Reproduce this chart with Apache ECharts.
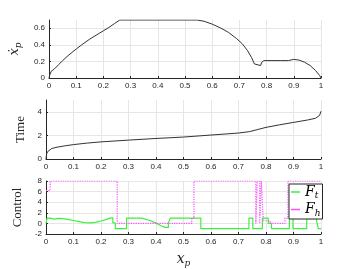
<!DOCTYPE html>
<html><head><meta charset="utf-8">
<script src="https://cdn.jsdelivr.net/npm/echarts@6/dist/echarts.min.js"></script>
<style>html,body{margin:0;padding:0;background:#fff}#c{width:355px;height:269px}</style>
</head><body><div id="c"></div>
<script>
// x_p ticks
const xTicks = [0,0.1,0.2,0.3,0.4,0.5,0.6,0.7,0.8,0.9,1];
// velocity profile [x_p, xdot_p]
const velocity = [[0,0],[0.003,0.04],[0.008,0.08],[0.02,0.11],[0.035,0.16],[0.05,0.21],[0.07,0.27],[0.1,0.35],[0.12,0.4],[0.15,0.47],[0.18,0.53],[0.2,0.57],[0.22,0.61],[0.24,0.655],[0.26,0.7],[0.544,0.7],[0.57,0.685],[0.6,0.65],[0.63,0.605],[0.66,0.55],[0.69,0.475],[0.71,0.415],[0.73,0.33],[0.745,0.245],[0.755,0.17],[0.762,0.15],[0.778,0.15],[0.782,0.19],[0.79,0.21],[0.85,0.21],[0.88,0.21],[0.9,0.225],[0.92,0.215],[0.94,0.19],[0.96,0.15],[0.98,0.09],[0.995,0.03],[1,0]];
// time [x_p, t]
const timeData = [[0,0],[0.002,0.4],[0.005,0.6],[0.01,0.75],[0.02,0.88],[0.04,1.0],[0.07,1.12],[0.1,1.22],[0.15,1.35],[0.2,1.45],[0.3,1.6],[0.4,1.74],[0.5,1.86],[0.6,2.03],[0.7,2.2],[0.74,2.32],[0.77,2.5],[0.8,2.68],[0.85,2.9],[0.9,3.1],[0.95,3.3],[0.98,3.45],[0.995,3.7],[1,4.05]];
// control F_t [x_p, value]
const controlFt = [[0,0],[0.004,0],[0.004,1.0],[0.015,1.0],[0.02,0.7],[0.03,0.8],[0.045,0.95],[0.06,0.9],[0.08,0.75],[0.1,0.55],[0.12,0.35],[0.14,0.15],[0.16,0.1],[0.18,0.2],[0.2,0.45],[0.22,0.75],[0.235,1.05],[0.243,1.05],[0.243,0.1],[0.252,0.1],[0.252,-1],[0.293,-1],[0.293,1.0],[0.348,1.0],[0.378,0.55],[0.402,0.0],[0.42,-0.5],[0.433,-0.75],[0.445,-0.75],[0.445,0.1],[0.452,0.1],[0.452,1.0],[0.563,1.0],[0.563,-1],[0.738,-1],[0.738,1.0],[0.752,1.0],[0.752,-1],[0.787,-1],[0.787,1.0],[0.808,1.0],[0.808,0],[0.82,0],[0.82,-1],[0.885,-1],[0.885,1.0],[0.898,1.0],[0.898,-1],[0.948,-1],[0.948,0.9],[0.984,0.9],[0.984,0.5],[0.99,0.5],[0.99,-1],[1,-1]];
// control F_h [x_p, value]
const controlFh = [[0,6.2],[0.015,6.2],[0.015,8],[0.259,8],[0.259,0],[0.53,0],[0.53,1],[0.538,1],[0.538,8],[0.763,8],[0.763,0],[0.768,0],[0.768,8],[0.777,8],[0.777,0],[0.783,0],[0.783,8],[0.79,8],[0.79,0.5],[0.815,0.5],[0.815,0],[0.869,0],[0.869,1],[0.88,1],[0.88,8],[1,8]];
// y ticks [min, max, interval]
const yTicks = [[0,0.7,0.2],[0,5,2],[-2,8,2]];

const axisCol = '#262626';
const gridCol = '#e6e6e6';
const lblStyle = {fontSize:8, color:axisCol, fontFamily:'Liberation Sans, Arial, sans-serif'};
const grids = [
  {left:46, right:34, top:20, height:58},
  {left:46, right:34, top:100, height:59},
  {left:46, right:34, top:181, height:58}
];
const xAxes = grids.map((g,i)=>({
  type:'value', gridIndex:i, min:xTicks[0], max:xTicks[xTicks.length-1], interval:0.1,
  axisLine:{show:true, onZero:false, lineStyle:{color:axisCol, width:1}},
  axisTick:{show:true, inside:true, length:2, lineStyle:{color:axisCol}},
  axisLabel:Object.assign({margin:4, formatter:v=>String(+v.toFixed(1))}, lblStyle),
  splitLine:{show:true, lineStyle:{color:gridCol, width:1}},
  name: i===2 ? '{i|x}{s|p}' : '',
  nameLocation:'middle', nameGap:17,
  nameTextStyle:{rich:{i:{fontFamily:'DejaVu Serif, serif', fontStyle:'italic', fontSize:14, color:axisCol}, s:{fontFamily:'DejaVu Serif, serif', fontStyle:'italic', fontSize:9, color:axisCol, padding:[8,0,0,0]}}}
}));
const yNames = ['{i|ẋ}{s|p}','{t|Time}','{t|Control}'];
const yAxes = grids.map((g,i)=>({
  type:'value', gridIndex:i, min:yTicks[i][0], max:yTicks[i][1], interval:yTicks[i][2],
  axisLine:{show:true, lineStyle:{color:axisCol, width:1}},
  axisTick:{show:true, inside:true, length:2, lineStyle:{color:axisCol}},
  axisLabel:Object.assign({margin:4, showMaxLabel: i===2, formatter:v=>String(+(+v).toFixed(1))}, lblStyle),
  splitLine:{show:true, showMaxLine: i===2, lineStyle:{color:gridCol, width:1}},
  name:yNames[i], nameLocation:'middle', nameRotate:90, nameGap: i===0?12:(i===1?9:11),
  nameTextStyle:{rich:{
    i:{fontFamily:'DejaVu Serif, serif', fontStyle:'italic', fontSize:13, color:axisCol},
    s:{fontFamily:'DejaVu Serif, serif', fontStyle:'italic', fontSize:9, color:axisCol, padding:[8,0,0,0]},
    t:{fontFamily:'Liberation Serif, DejaVu Serif, serif', fontSize:13, color:axisCol}
  }}
}));
const chart = echarts.init(document.getElementById('c'), null, {renderer:'canvas'});
chart.setOption({
  animation:false,
  backgroundColor:'#fff',
  grid:grids,
  xAxis:xAxes,
  yAxis:yAxes,
  legend:{
    show:true, orient:'vertical', left:289, top:184,
    data:['Ft','Fh'],
    icon:'rect',
    itemWidth:9, itemHeight:1.5, itemGap:2,
    padding:[1,2,1,2],
    backgroundColor:'#fff', borderColor:axisCol, borderWidth:1, borderRadius:0,
    formatter:n=> n==='Ft' ? '{i|F}{s|t}' : '{i|F}{s|h}',
    textStyle:{rich:{
      i:{fontFamily:'DejaVu Serif, serif', fontStyle:'italic', fontSize:14, color:'#000'},
      s:{fontFamily:'DejaVu Serif, serif', fontStyle:'italic', fontSize:9, color:'#000', padding:[8,0,0,0]}
    }}
  },
  series:[
    {type:'line', xAxisIndex:0, yAxisIndex:0, data:velocity, showSymbol:false, symbol:'none', lineStyle:{color:'#333', width:1}, silent:true},
    {type:'line', xAxisIndex:1, yAxisIndex:1, data:timeData, showSymbol:false, symbol:'none', lineStyle:{color:'#333', width:1}, silent:true},
    {name:'Ft', type:'line', xAxisIndex:2, yAxisIndex:2, data:controlFt, showSymbol:false, symbol:'none', itemStyle:{color:'#3cf03c'}, lineStyle:{color:'#3cf03c', width:1.2}, silent:true},
    {name:'Fh', type:'line', xAxisIndex:2, yAxisIndex:2, data:controlFh, showSymbol:false, symbol:'none', itemStyle:{color:'#ff4cff'}, lineStyle:{color:'#ff4cff', width:1.2, type:'dotted'}, silent:true}
  ]
});
</script></body></html>
